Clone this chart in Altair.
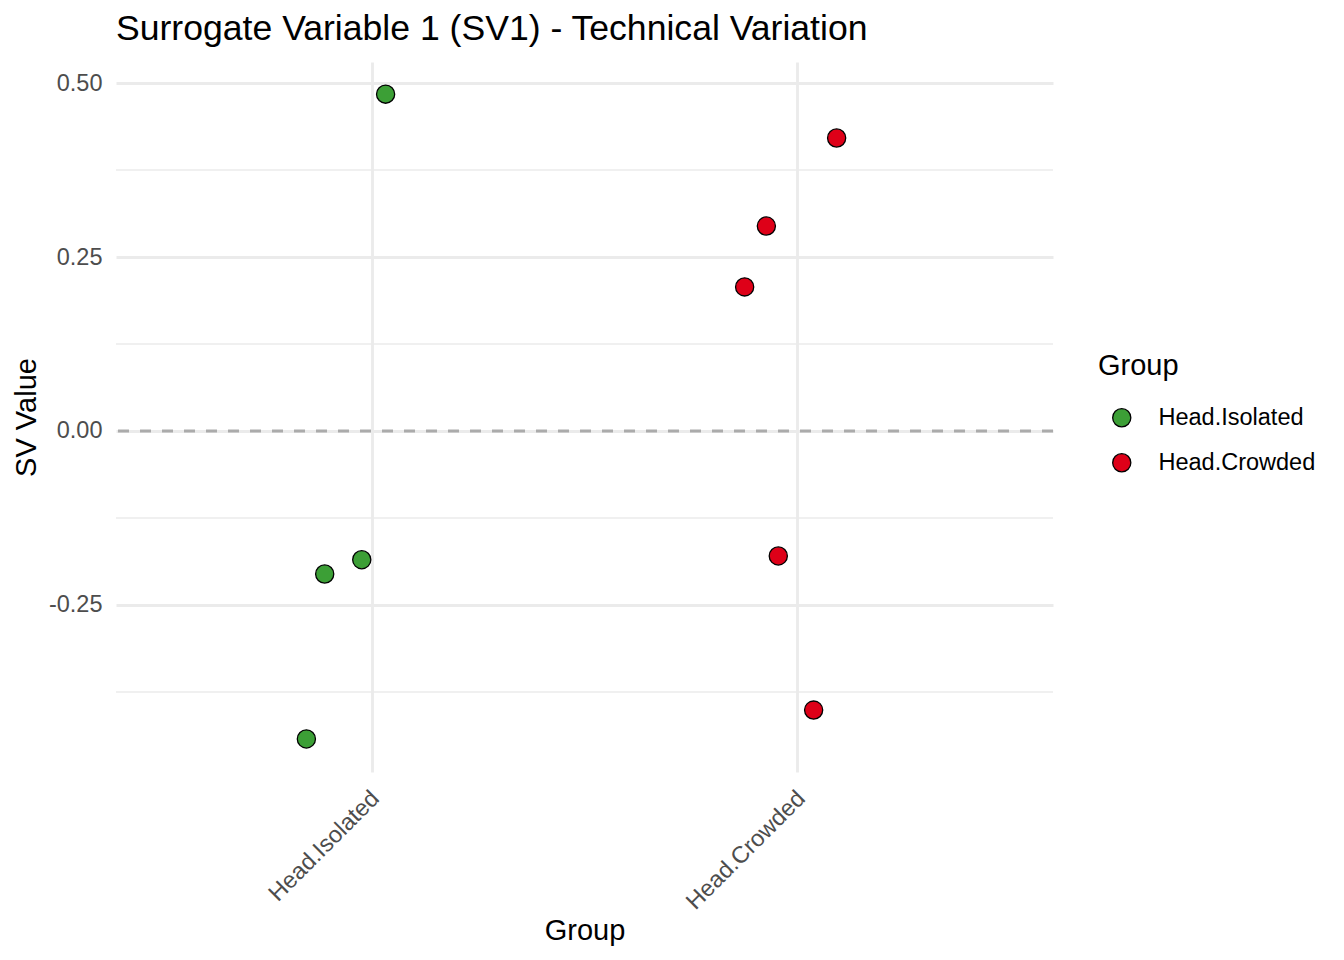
import altair as alt
import pandas as pd

# ---- data ----
categories = ["Head.Isolated", "Head.Crowded"]
groups = ["Head.Isolated"] * 4 + ["Head.Crowded"] * 5
sv1 = [0.484, -0.2055, -0.185, -0.4425, 0.421, 0.2945, 0.207, -0.1796, -0.401]
jitter = [0.033, -0.11, -0.023, -0.153, 0.092, -0.073, -0.124, -0.045, 0.038]
colors = ["#3C9F36", "#DE0018"]
y_ticks = [-0.25, 0.0, 0.25, 0.5]
y_minor = [-0.375, -0.125, 0.125, 0.375]

df = pd.DataFrame({
    "Group": groups,
    "SV1": sv1,
    "pos": [categories.index(g) + 1 + j for g, j in zip(groups, jitter)],
})
minor_df = pd.DataFrame({"y": y_minor})
zero_df = pd.DataFrame({"y": [0.0]})

FONT = "Liberation Sans"
W, H = 937, 710
ydom = [-0.49, 0.5302]
xdom = [0.4, 2.6]

label_expr = " : ".join(
    [f"datum.value == {i + 1} ? '{c}'" for i, c in enumerate(categories[:-1])]
    + [f"'{categories[-1]}'"]
)

xenc = alt.X(
    "pos:Q",
    scale=alt.Scale(domain=xdom, nice=False, zero=False),
    axis=alt.Axis(
        title="Group",
        values=[1, 2],
        labelExpr=label_expr,
        labelAngle=-45,
        labelAlign="right",
        labelBaseline="top",
        labelPadding=14,
        labelOffset=-5,
        labelFontSize=23.5,
        labelColor="#4D4D4D",
        labelFont=FONT,
        titleFont=FONT,
        titleFontSize=29,
        titleFontWeight="normal",
        titleColor="#000000",
        titleX=W / 2,
        titleY=167,
        titleBaseline="alphabetic",
        titleAlign="center",
        grid=True,
        gridColor="#EBEBEB",
        gridWidth=2.85,
        domain=False,
        ticks=False,
    ),
)

yscale = alt.Scale(domain=ydom, nice=False, zero=False)

points = alt.Chart(df).mark_point(
    shape="circle", filled=True, size=330, stroke="#000000", strokeWidth=1.3, opacity=1
).encode(
    x=xenc,
    y=alt.Y(
        "SV1:Q",
        scale=yscale,
        axis=alt.Axis(
            title="SV Value",
            values=y_ticks,
            labelExpr="replace(format(datum.value, '.2f'), '\u2212', '-')",
            labelFontSize=23.5,
            labelColor="#4D4D4D",
            labelFont=FONT,
            labelPadding=14,
            titleFont=FONT,
            titleFontSize=29,
            titleFontWeight="normal",
            titleColor="#000000",
            titleAngle=270,
            titleX=-81,
            titleY=H / 2,
            titleAlign="center",
            titleBaseline="alphabetic",
            grid=True,
            gridColor="#EBEBEB",
            gridWidth=2.85,
            domain=False,
            ticks=False,
        ),
    ),
    fill=alt.Fill(
        "Group:N",
        scale=alt.Scale(domain=categories, range=colors),
        legend=alt.Legend(
            title="Group",
            orient="none",
            legendX=982,
            legendY=290,
            titleFont=FONT,
            titleFontSize=29,
            titleFontWeight="normal",
            titleColor="#000000",
            titleBaseline="top",
            titlePadding=25,
            labelFont=FONT,
            labelFontSize=23.5,
            labelColor="#000000",
            labelOffset=25,
            symbolOffset=12,
            symbolSize=330,
            symbolStrokeColor="#000000",
            symbolStrokeWidth=1.3,
            symbolType="circle",
            rowPadding=20,
            padding=0,
            offset=0,
        ),
    ),
)

minor = alt.Chart(minor_df).mark_rule(color="#EBEBEB", strokeWidth=1.4).encode(
    y=alt.Y("y:Q", scale=yscale)
)
zero = alt.Chart(zero_df).mark_rule(
    color="#ABABAB", strokeWidth=2.8, strokeDash=[11, 11]
).encode(y=alt.Y("y:Q", scale=yscale))

chart = alt.layer(minor, zero, points).properties(
    width=W,
    height=H,
    title=alt.TitleParams(
        "Surrogate Variable 1 (SV1) - Technical Variation",
        anchor="start",
        frame="group",
        font=FONT,
        fontSize=35.6,
        fontWeight="normal",
        color="#000000",
        baseline="alphabetic",
        offset=22,
        dy=36,
    ),
    autosize=alt.AutoSizeParams(type="none"),
    padding={"left": 108, "top": 54, "right": 283, "bottom": 180},
).configure(background="#FFFFFF", view=alt.ViewConfig(stroke=None, strokeWidth=0))

chart.save("out.html", embed_options={"renderer": "svg", "actions": False})
